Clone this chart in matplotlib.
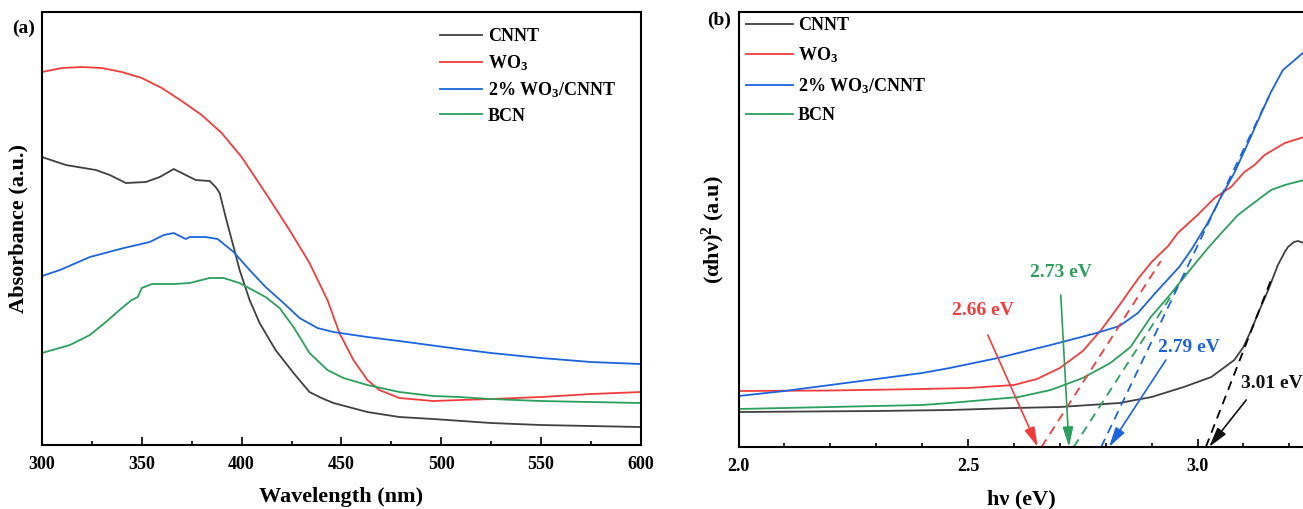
import numpy as np
import matplotlib
matplotlib.use('Agg')
import matplotlib.pyplot as plt
from matplotlib.ticker import MultipleLocator

plt.rcParams['font.family'] = ['Liberation Serif', 'DejaVu Serif']
plt.rcParams['font.weight'] = 'bold'
plt.rcParams['mathtext.fontset'] = 'custom'
plt.rcParams['mathtext.rm'] = 'Liberation Serif:bold'
plt.rcParams['mathtext.it'] = 'Liberation Serif:bold:italic'
plt.rcParams['mathtext.bf'] = 'Liberation Serif:bold'

# ---- colours / labels
labels = ['CNNT', 'WO$_3$', '2% WO$_3$/CNNT', 'BCN']
colors = ['#404040', '#f23c3c', '#1c64de', '#2aa05c']

# ---- (a) UV-vis absorbance
wl_cnnt = [300, 312, 327, 334, 342, 352, 359, 366, 372, 377, 384, 387, 389, 392, 396, 399,
           404, 409, 417, 426, 434, 440, 446, 463, 479, 496, 525, 550, 575, 600]
abs_cnnt = [2.88, 2.80, 2.75, 2.70, 2.62, 2.63, 2.68, 2.76, 2.70, 2.65, 2.64, 2.58, 2.52, 2.28, 1.98, 1.75,
            1.45, 1.22, 0.95, 0.72, 0.53, 0.47, 0.42, 0.33, 0.28, 0.26, 0.22, 0.20, 0.19, 0.18]

wl_wo3 = [300, 310, 320, 330, 340, 350, 360, 370, 380, 390, 400, 412, 424, 434, 443, 449, 456,
          463, 469, 479, 496, 509, 525, 550, 575, 600]
abs_wo3 = [3.73, 3.77, 3.78, 3.77, 3.73, 3.67, 3.57, 3.44, 3.30, 3.12, 2.88, 2.52, 2.15, 1.82, 1.45, 1.12, 0.85,
           0.65, 0.55, 0.47, 0.44, 0.45, 0.46, 0.48, 0.51, 0.53]

wl_comp = [300, 309, 324, 341, 354, 361, 366, 372, 374, 382, 388, 396, 404, 412, 421, 429,
           438, 446, 463, 479, 509, 525, 550, 575, 600]
abs_comp = [1.69, 1.75, 1.88, 1.97, 2.03, 2.10, 2.12, 2.06, 2.08, 2.08, 2.06, 1.93, 1.75, 1.58, 1.42, 1.27,
            1.17, 1.13, 1.08, 1.04, 0.96, 0.92, 0.87, 0.83, 0.81]

wl_bcn = [300, 314, 324, 332, 340, 345, 348, 350, 355, 366, 374, 384, 391, 399, 412, 419,
          426, 434, 443, 451, 463, 479, 496, 509, 525, 550, 600]
abs_bcn = [0.92, 1.00, 1.10, 1.23, 1.37, 1.45, 1.48, 1.57, 1.61, 1.61, 1.62, 1.67, 1.67, 1.62, 1.48, 1.37,
           1.18, 0.92, 0.75, 0.67, 0.60, 0.53, 0.49, 0.48, 0.46, 0.44, 0.42]

# ---- (b) Tauc plot
e_cnnt = [2.0, 2.3, 2.46, 2.6, 2.7, 2.83, 2.9, 2.97, 3.03, 3.08, 3.1, 3.117, 3.135, 3.154,
          3.175, 3.19, 3.197, 3.21, 3.219, 3.232]
t_cnnt = [0.35, 0.36, 0.37, 0.39, 0.40, 0.44, 0.50, 0.60, 0.70, 0.87, 1.00, 1.17, 1.37, 1.57,
          1.82, 1.95, 2.00, 2.05, 2.06, 2.04]

e_wo3 = [2.0, 2.2, 2.4, 2.5, 2.6, 2.65, 2.7, 2.75, 2.79, 2.83, 2.87, 2.9, 2.936, 2.957,
         3.0, 3.037, 3.073, 3.102, 3.124, 3.146, 3.19, 3.232]
t_wo3 = [0.56, 0.565, 0.58, 0.59, 0.62, 0.68, 0.79, 0.96, 1.17, 1.42, 1.68, 1.85, 2.01, 2.14,
         2.32, 2.49, 2.60, 2.75, 2.82, 2.92, 3.04, 3.10]

e_comp = [2.0, 2.1, 2.2, 2.3, 2.4, 2.46, 2.565, 2.68, 2.78, 2.83, 2.87, 2.91, 2.96, 2.986,
          3.022, 3.051, 3.08, 3.11, 3.139, 3.16, 3.186, 3.204, 3.232]
t_comp = [0.51, 0.56, 0.62, 0.68, 0.74, 0.79, 0.89, 1.02, 1.14, 1.21, 1.34, 1.55, 1.80, 1.97,
          2.24, 2.50, 2.74, 3.04, 3.34, 3.55, 3.77, 3.84, 3.95]

e_bcn = [2.0, 2.2, 2.4, 2.46, 2.61, 2.68, 2.75, 2.81, 2.854, 2.898, 2.936, 2.971, 3.019,
         3.044, 3.088, 3.131, 3.16, 3.19, 3.232]
t_bcn = [0.38, 0.40, 0.42, 0.44, 0.50, 0.57, 0.69, 0.84, 1.00, 1.30, 1.50, 1.70, 1.97,
         2.10, 2.32, 2.47, 2.57, 2.62, 2.67]

# tangent (dashed) lines: (E start, E end), (y start, y end)
fit_e = [(2.66, 2.92), (2.73, 2.975), (2.79, 3.155), (3.018, 3.16)]
fit_y = [(0.0, 1.86), (0.0, 1.74), (0.0, 3.50), (0.0, 1.67)]
fit_colors = [colors[1], colors[3], colors[2], 'black']

# arrows and band-gap labels
gap_text = ['2.66 eV', '2.73 eV', '2.79 eV', '3.01 eV']
arrow_from = [(2.543, 1.12), (2.702, 1.52), (2.931, 0.87), (3.106, 0.47)]
arrow_to = [(2.652, 0.0), (2.720, 0.0), (2.807, 0.0), (3.025, 0.0)]
text_pos = [(2.532, 1.37), (2.702, 1.75), (2.982, 1.00), (3.095, 0.64)]
text_ha = ['center', 'center', 'center', 'left']
text_colors = [colors[1], colors[3], colors[2], '#111111']

fig = plt.figure(figsize=(13.03, 5.09), dpi=100)
ax1 = fig.add_axes([0.0322, 0.1257, 0.4597, 0.8507])
ax2 = fig.add_axes([0.5668, 0.1218, 0.4340, 0.8546])

lw = 1.3
for x, y, c, l in zip([wl_cnnt, wl_wo3, wl_comp, wl_bcn],
                      [abs_cnnt, abs_wo3, abs_comp, abs_bcn], colors, labels):
    ax1.plot(x, y, color=c, lw=lw, label=l)

for x, y, c, l in zip([e_cnnt, e_wo3, e_comp, e_bcn],
                      [t_cnnt, t_wo3, t_comp, t_bcn], colors, labels):
    ax2.plot(x, y, color=c, lw=lw, label=l)

for fe, fy, c in zip(fit_e, fit_y, fit_colors):
    ax2.plot(fe, fy, color=c, lw=lw, ls=(0, (5, 3.5)))

for t, p0, p1, tp, ha, c in zip(gap_text, arrow_from, arrow_to, text_pos, text_ha, text_colors):
    ax2.annotate('', xy=p1, xytext=p0,
                 arrowprops=dict(arrowstyle='-|>,head_length=0.6,head_width=0.16',
                                 color=c, lw=1.2, mutation_scale=20, shrinkA=0, shrinkB=0))
    ax2.text(tp[0], tp[1], t, color=c, fontsize=14, fontweight='bold', ha=ha, va='center')

ax1.set_xlim(300, 600)
ax1.set_ylim(0, 4.33)
ax1.xaxis.set_major_locator(MultipleLocator(50))
ax1.xaxis.set_minor_locator(MultipleLocator(25))
ax1.set_xlabel('Wavelength (nm)', fontsize=16, fontweight='bold', labelpad=10)
ax1.set_ylabel('Absorbance (a.u.)', fontsize=16, fontweight='bold', labelpad=10)

ax2.set_xlim(2.0, 3.232)
ax2.set_ylim(0, 4.35)
ax2.xaxis.set_major_locator(MultipleLocator(0.5))
ax2.xaxis.set_minor_locator(MultipleLocator(0.1))
ax2.set_xlabel('hν (eV)', fontsize=16, fontweight='bold', labelpad=10)
ax2.set_ylabel('(αhν)$^2$ (a.u)', fontsize=16, fontweight='bold', labelpad=8)
ax2.spines['right'].set_visible(False)

for ax in (ax1, ax2):
    ax.set_yticks([])
    ax.tick_params(axis='x', which='major', direction='in', length=6, width=1.2,
                   labelsize=13, pad=8)
    ax.tick_params(axis='x', which='minor', direction='in', length=3, width=1.2)
    for s in ax.spines.values():
        s.set_linewidth(1.5)

ax1.legend(loc='upper left', bbox_to_anchor=(0.664, 0.962), frameon=False, fontsize=13,
           handlelength=2.33, handletextpad=0.33, labelspacing=0.42, borderpad=0, borderaxespad=0)
ax2.legend(loc='upper left', bbox_to_anchor=(0.0133, 0.988), frameon=False, fontsize=13,
           handlelength=2.6, handletextpad=0.28, labelspacing=0.62, borderpad=0, borderaxespad=0)

fig.text(12 / 1303, 1 - 28 / 509, '(a)', fontsize=14, fontweight='bold', va='center', ha='left')
fig.text(707 / 1303, 1 - 20 / 509, '(b)', fontsize=14, fontweight='bold', va='center', ha='left')

fig.savefig('out.png', dpi=100)
